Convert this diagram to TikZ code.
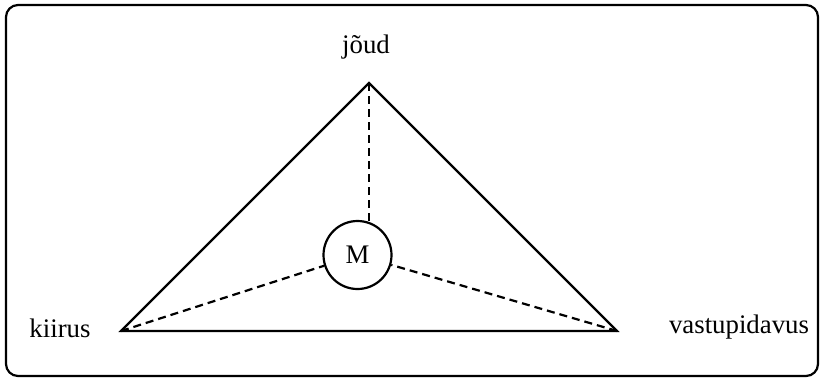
\documentclass[tikz,border=0pt]{standalone}
\usepackage{fontspec}
\setmainfont{Liberation Serif}
\tikzset{
  frame/.style={line width=1.1pt, rounded corners=6pt},
  edge/.style={line width=1.1pt},
  dashedge/.style={line width=1.1pt, dashed, dash pattern=on 4pt off 2.5pt},
  lbl/.style={font=\fontsize{13.4}{16}\selectfont, inner sep=0pt},
  mnode/.style={circle, draw, line width=1.1pt, minimum size=34pt, inner sep=0pt, font=\fontsize{13.4}{16}\selectfont}
}
\begin{document}
\begin{tikzpicture}[x=0.5pt,y=-0.5pt]
\useasboundingbox (0,0) rectangle (824,381);
\draw[frame] (6,5) rectangle (818,376);
\coordinate (top) at (369,83);
\coordinate (left) at (121,331);
\coordinate (right) at (617,331);
\node[mnode] (M) at (357.5,255) {M};
\draw[edge, line join=miter] (top) -- (left) -- (right) -- cycle;
\draw[dashedge] (top) -- (top |- M.69);
\draw[dashedge] (left) -- (M);
\draw[dashedge] (right) -- (M);
\node[lbl] (jl) at (366,47) {jõud};
\node[lbl] (kl) at (60,328) {kiirus};
\node[lbl] (vl) at (739,327) {vastupidavus};
\end{tikzpicture}
\end{document}
